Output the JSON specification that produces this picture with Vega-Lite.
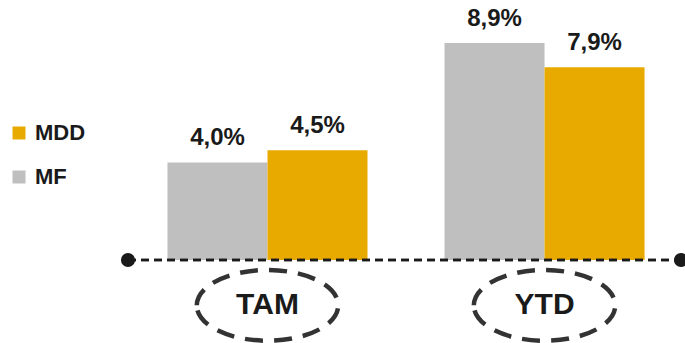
{
  "$schema": "https://vega.github.io/schema/vega-lite/v6.json",
  "width": 553,
  "height": 260,
  "autosize": {"type": "none"},
  "padding": {"left": 128, "top": 0, "right": 4, "bottom": 83},
  "background": "white",
  "config": {"view": {"stroke": null}, "font": "Liberation Sans"},
  "datasets": {
    "bars": [
      {"period": "TAM", "series": "MF", "value": 4.0, "label": "4,0%"},
      {"period": "TAM", "series": "MDD", "value": 4.5, "label": "4,5%"},
      {"period": "YTD", "series": "MF", "value": 8.9, "label": "8,9%"},
      {"period": "YTD", "series": "MDD", "value": 7.9, "label": "7,9%"}
    ],
    "periods": [{"period": "TAM"}, {"period": "YTD"}],
    "ends": [{"p": 0}, {"p": 1}]
  },
  "layer": [
    {
      "data": {"name": "bars"},
      "encoding": {
        "x": {
          "field": "period",
          "type": "nominal",
          "sort": ["TAM", "YTD"],
          "scale": {"paddingInner": 0.278, "paddingOuter": 0.137, "align": 0.52},
          "axis": null
        }
      },
      "layer": [
        {
          "mark": {"type": "bar"},
          "encoding": {
            "xOffset": {"field": "series", "type": "nominal", "sort": ["MF", "MDD"], "scale": {"paddingInner": 0, "paddingOuter": 0}},
            "y": {"field": "value", "type": "quantitative", "scale": {"domain": [0, 10.66], "nice": false, "zero": true}, "axis": null},
            "color": {
              "field": "series",
              "type": "nominal",
              "scale": {"domain": ["MDD", "MF"], "range": ["#E9AA00", "#BFBFBF"]},
              "legend": {
                "title": null,
                "orient": "none",
                "legendX": -120,
                "legendY": 122,
                "symbolType": "square",
                "symbolSize": 169,
                "symbolStrokeWidth": 0,
                "labelFont": "Liberation Sans",
                "labelFontSize": 22,
                "labelFontWeight": "bold",
                "labelColor": "#1a1a1a",
                "labelOffset": 5,
                "rowPadding": 22
              }
            }
          }
        },
        {
          "mark": {"type": "text", "baseline": "alphabetic", "dy": -17, "fontSize": 24, "fontWeight": "bold", "color": "#1a1a1a", "font": "Liberation Sans"},
          "encoding": {
            "xOffset": {"field": "series", "type": "nominal", "sort": ["MF", "MDD"], "scale": {"paddingInner": 0, "paddingOuter": 0}},
            "y": {"field": "value", "type": "quantitative"},
            "text": {"field": "label"}
          }
        },
        {
          "data": {"name": "periods"},
          "mark": {
            "type": "point",
            "shape": "M -1 0 A 1 0.5 0 1 1 1 0 A 1 0.5 0 1 1 -1 0 Z",
            "size": 20000,
            "filled": false,
            "stroke": "#333333",
            "strokeWidth": 4.5,
            "strokeDash": [18, 11],
            "opacity": 1
          },
          "encoding": {
            "y": {"datum": -1.86, "type": "quantitative"}
          }
        },
        {
          "data": {"name": "periods"},
          "mark": {"type": "text", "baseline": "middle", "fontSize": 30, "fontWeight": "bold", "color": "#1a1a1a", "font": "Liberation Sans"},
          "encoding": {
            "y": {"datum": -1.86, "type": "quantitative"},
            "text": {"field": "period"}
          }
        }
      ]
    },
    {
      "data": {"name": "ends"},
      "layer": [
        {
          "mark": {"type": "rule", "strokeDash": [8, 5], "strokeWidth": 2.5, "color": "#1a1a1a"},
          "encoding": {
            "x": {"datum": 0, "type": "quantitative", "scale": {"domain": [0, 1]}, "axis": null},
            "x2": {"datum": 1},
            "y": {"datum": 0, "type": "quantitative"}
          }
        },
        {
          "mark": {"type": "circle", "size": 200, "color": "#1a1a1a", "opacity": 1},
          "encoding": {
            "x": {"field": "p", "type": "quantitative", "scale": {"domain": [0, 1]}, "axis": null},
            "y": {"datum": 0, "type": "quantitative"}
          }
        }
      ]
    }
  ],
  "resolve": {"scale": {"x": "independent"}}
}
